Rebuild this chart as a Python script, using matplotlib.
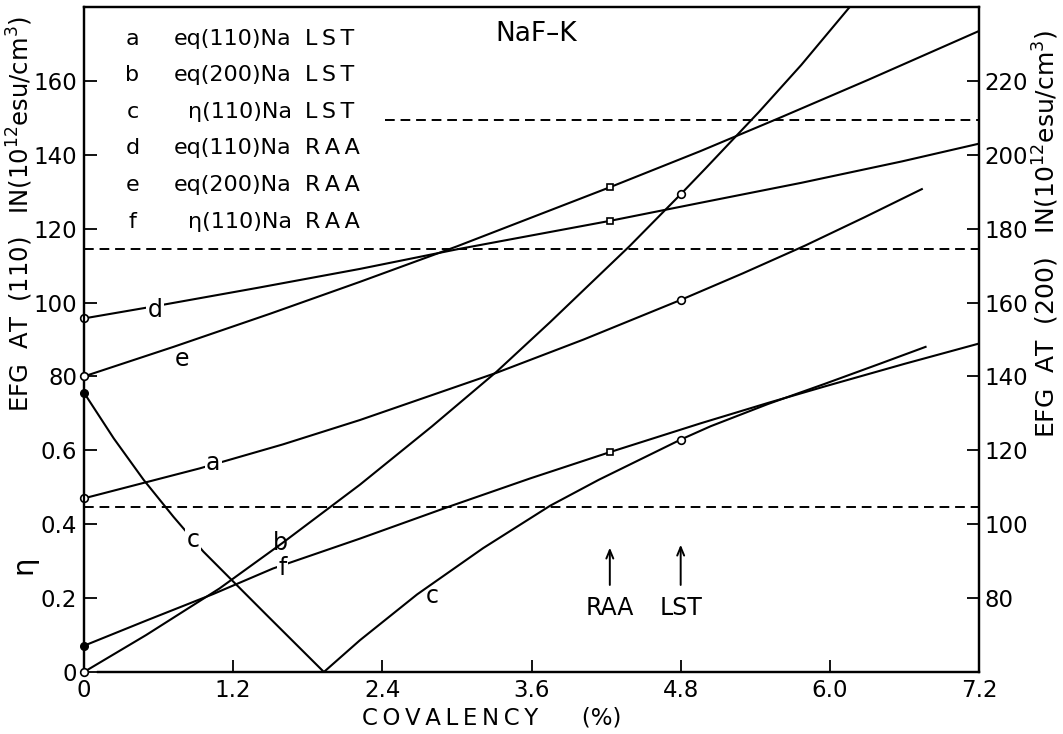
import matplotlib
matplotlib.use('Agg')
import matplotlib.pyplot as plt

plt.rcParams['font.family'] = ['DejaVu Sans']

# covalency (%) on x; left axis EFG(110) [1e12 esu/cm3], eta drawn as eta*100 on same axis
# right axis EFG(200) [1e12 esu/cm3]
a_x = [0, 0.93, 1.6, 2.22, 3.32, 4.02, 4.8, 5.3, 5.8, 6.28, 6.74]          # eq(110) Na LST
a_y = [47, 55.1, 61.6, 68.2, 81, 90, 100.7, 107.9, 115.4, 123.1, 130.7]
b_x = [0, 0.5, 1.09, 1.6, 2.22, 2.8, 3.32, 3.75, 4.39, 4.8, 5.0, 5.43, 5.77, 6.16]  # eq(200) Na LST
b_y = [60, 70, 82.6, 95, 110.7, 126.5, 141.3, 154.7, 175.3, 189.3, 196.3, 211.6, 224.3, 240]
c_x = [0, 0.24, 0.48, 0.72, 0.96, 1.2, 1.47, 1.93,
       2.22, 2.68, 3.21, 3.75, 4.14, 4.8, 5.04, 5.5, 5.96, 6.4, 6.77]  # eta(110) Na LST
c_eta = [0.756, 0.632, 0.52, 0.42, 0.326, 0.245, 0.154, 0.0,
         0.086, 0.21, 0.335, 0.45, 0.52, 0.629, 0.665, 0.725, 0.78, 0.834, 0.88]
d_x = [0, 0.57, 1.4, 2.22, 3.0, 4.23, 4.96, 5.77, 6.58, 7.2]          # eq(110) Na RAA
d_y = [95.7, 99.0, 104.0, 109.1, 114.4, 122.1, 127.0, 132.4, 138.2, 143]
e_x = [0, 0.72, 1.5, 2.22, 3.0, 4.23, 4.96, 5.59, 6.31, 7.2]          # eq(200) Na RAA
e_y = [140, 148.0, 157.0, 165.6, 175.2, 191.2, 201.0, 209.9, 220.3, 233.5]
f_x = [0, 0.5, 1.04, 1.52, 2.22, 2.94, 3.59, 4.23, 4.96, 5.5, 5.96, 6.6, 7.2]  # eta(110) Na RAA
f_eta = [0.071, 0.139, 0.211, 0.28, 0.361, 0.448, 0.524, 0.595, 0.673, 0.728,
         0.773, 0.834, 0.889]

eta_exp = 0.447
efg110_exp = 114.6
efg200_exp = 209.3
efg200_exp_start = 2.42
raa_cov = 4.23
lst_cov = 4.8
eta_scale = 100  # 0.6 of eta sits at 60 on the EFG(110) scale

ts = '\u2009'
legend_rows = [('a', 'eq(110)Na', 'LST'), ('b', 'eq(200)Na', 'LST'), ('c', '\u03b7(110)Na', 'LST'),
               ('d', 'eq(110)Na', 'RAA'), ('e', 'eq(200)Na', 'RAA'), ('f', '\u03b7(110)Na', 'RAA')]

left_ticks = [0, 20, 40, 60, 80, 100, 120, 140, 160]
left_labels = ['0', '0.2', '0.4', '0.6', '80', '100', '120', '140', '160']
right_ticks = [80, 100, 120, 140, 160, 180, 200, 220]
x_ticks = [0, 1.2, 2.4, 3.6, 4.8, 6.0, 7.2]
x_labels = ['0', '1.2', '2.4', '3.6', '4.8', '6.0', '7.2']

fig = plt.figure(figsize=(10.63, 7.34), dpi=100)
ax = fig.add_axes([0.079, 0.0845, 0.842, 0.906])
ax2 = ax.twinx()

lw = 1.5
k = 'black'
c_y = [v * eta_scale for v in c_eta]
f_y = [v * eta_scale for v in f_eta]

ax.plot(a_x, a_y, color=k, lw=lw)
ax.plot(c_x, c_y, color=k, lw=lw)
ax.plot(d_x, d_y, color=k, lw=lw)
ax.plot(f_x, f_y, color=k, lw=lw)
ax2.plot(b_x, b_y, color=k, lw=lw)
ax2.plot(e_x, e_y, color=k, lw=lw)

# markers: open circles at 0, circles at LST point, squares at RAA point
ms = 5.5
op = dict(color=k, mfc='white', mew=1.2, ms=ms, ls='none', clip_on=False, zorder=5)
sq = dict(op, ms=5)
ax.plot([a_x[0], a_x[a_x.index(lst_cov)]], [a_y[0], a_y[a_x.index(lst_cov)]], 'o', **op)
ax2.plot([b_x[0], b_x[b_x.index(lst_cov)]], [b_y[0], b_y[b_x.index(lst_cov)]], 'o', **op)
ax.plot([lst_cov], [c_y[c_x.index(lst_cov)]], 'o', **op)
ax.plot([c_x[0]], [c_y[0]], 'o', color=k, ms=ms, clip_on=False, zorder=5)
ax.plot([d_x[0]], [d_y[0]], 'o', **op)
ax.plot([raa_cov], [d_y[d_x.index(raa_cov)]], 's', **sq)
ax2.plot([e_x[0]], [e_y[0]], 'o', **op)
ax2.plot([raa_cov], [e_y[e_x.index(raa_cov)]], 's', **sq)
ax.plot([f_x[0]], [f_y[0]], 'o', color=k, ms=ms, clip_on=False, zorder=5)
ax.plot([raa_cov], [f_y[f_x.index(raa_cov)]], 's', **sq)

dash = (0, (5, 3))
ax.axhline(eta_exp * eta_scale, color=k, lw=1.4, ls=dash)
ax.axhline(efg110_exp, color=k, lw=1.4, ls=dash)
ax2.hlines(efg200_exp, efg200_exp_start, 7.2, color=k, lw=1.4, ls=dash)

# curve letters
box = dict(fc='white', ec='none', pad=1)
fs = 17
ax.text(0.57, 98.1, 'd', fontsize=fs, ha='center', va='center', bbox=box, zorder=6)
ax.text(0.79, 84.6, 'e', fontsize=fs, ha='center', va='center', zorder=6)
ax.text(1.04, 56.6, 'a', fontsize=fs, ha='center', va='center', bbox=box, zorder=6)
ax.text(0.88, 35.8, 'c', fontsize=fs, ha='center', va='center', bbox=box, zorder=6)
ax.text(1.58, 34.9, 'b', fontsize=fs, ha='center', va='center', bbox=box, zorder=6)
ax.text(1.60, 28.1, 'f', fontsize=fs, ha='center', va='center', bbox=box, zorder=6)
ax.text(2.80, 20.5, 'c', fontsize=fs, ha='center', va='center', zorder=6)

ax.text(3.64, 172.7, 'NaF\u2013K', fontsize=19, ha='center', va='center')

# arrows for RAA / LST covalencies
ap = dict(arrowstyle='->, head_length=0.6, head_width=0.25', lw=1.4, color=k)
ax.annotate('', xy=(raa_cov, 34.4), xytext=(raa_cov, 22.8), arrowprops=ap)
ax.annotate('', xy=(lst_cov, 35.2), xytext=(lst_cov, 22.8), arrowprops=ap)
ax.text(raa_cov, 17.3, 'RAA', fontsize=17, ha='center', va='center')
ax.text(lst_cov, 17.3, 'LST', fontsize=17, ha='center', va='center')

# key
for i, (lt, name, model) in enumerate(legend_rows):
    yy = 171.4 - i * 9.9
    ax.text(0.39, yy, lt, fontsize=16, ha='center', va='center')
    ax.text(1.67, yy, name, fontsize=16, ha='right', va='center')
    ax.text(1.78, yy, ts.join(model), fontsize=16, ha='left', va='center')

ax.set_xlim(0, 7.2)
ax.set_ylim(0, 180)
ax2.set_ylim(60, 240)
ax.set_xticks(x_ticks)
ax.set_xticklabels(x_labels)
ax.set_yticks(left_ticks)
ax.set_yticklabels(left_labels)
ax2.set_yticks(right_ticks)
ax.tick_params(direction='in', length=9, width=1.3, labelsize=16.5, pad=5)
ax2.tick_params(direction='in', length=9, width=1.3, labelsize=16.5, pad=4)
for sp in list(ax.spines.values()) + list(ax2.spines.values()):
    sp.set_linewidth(1.6)
ax.spines['bottom'].set_bounds(0.11, 7.2)
ax2.spines['bottom'].set_bounds(0.11, 7.2)

fig.text(20 / 1063, 1 - 214 / 734, 'EFG  AT  (110)   IN(10$^{12}$esu/cm$^3$)', rotation=90,
         ha='center', va='center', fontsize=17.5)
fig.text(23 / 1063, 1 - 565 / 734, '\u03b7', rotation=90, ha='center', va='center', fontsize=21)
fig.text(1046 / 1063, 1 - 234 / 734, 'EFG  AT  (200)   IN(10$^{12}$esu/cm$^3$)', rotation=90,
         ha='center', va='center', fontsize=18)
fig.text(492 / 1063, 1 - 718 / 734, ts.join('COVALENCY') + '      (%)', ha='center', va='center',
         fontsize=16.5)

fig.savefig('out.png', dpi=100)
